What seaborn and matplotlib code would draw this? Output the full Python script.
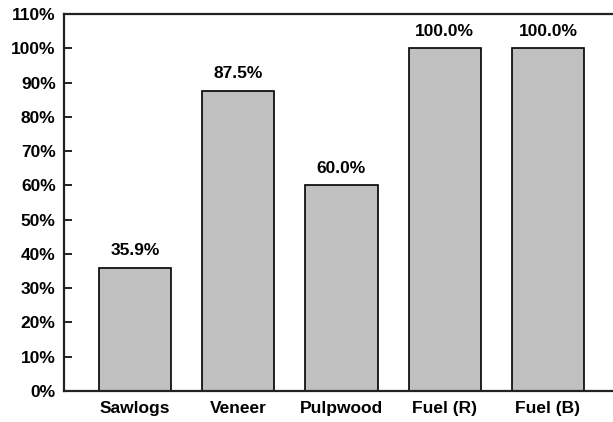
import matplotlib
matplotlib.use("Agg")
import matplotlib.pyplot as plt
import seaborn as sns
import pandas as pd
from matplotlib.ticker import FuncFormatter

categories = ["Sawlogs", "Veneer", "Pulpwood", "Fuel (R)", "Fuel (B)"]
values = [35.9, 87.5, 60.0, 100.0, 100.0]
yticks = list(range(0, 111, 10))

df = pd.DataFrame({"category": categories, "value": values})

sns.set_theme(style="white")
plt.rcParams['font.family'] = ['Liberation Sans', 'DejaVu Sans']

fig = plt.figure(figsize=(6.13, 4.22), dpi=100)
ax = fig.add_axes([64/613, 31/422, 549/613, 377/422])

sns.barplot(data=df, x="category", y="value", color="#c0c0c0", saturation=1,
            edgecolor="black", linewidth=1.2, width=0.70, ax=ax)

ax.set_ylim(0, 110)
ax.set_xlim(-0.688, 4.63)
ax.set_yticks(yticks)
ax.yaxis.set_major_formatter(FuncFormatter(lambda v, p: f"{int(v)}%"))
ax.set_xlabel("")
ax.set_ylabel("")

for s in ["left", "bottom", "top"]:
    ax.spines[s].set_visible(True)
    ax.spines[s].set_color("#222222")
    ax.spines[s].set_linewidth(1.6)
ax.spines["right"].set_visible(False)

ax.tick_params(axis="y", which="major", direction="in", length=6, width=1.4,
               color="#222222", left=True, labelsize=12.5, pad=6)
ax.tick_params(axis="x", which="major", length=0, labelsize=12.5, pad=7)
for lab in ax.get_xticklabels() + ax.get_yticklabels():
    lab.set_fontweight("bold")
    lab.set_color("black")

for c in ax.containers:
    ax.bar_label(c, labels=[f"{v:.1f}%" for v in values], padding=7,
                 fontsize=12.5, fontweight="bold", color="black")

fig.savefig("out.png", dpi=100)
